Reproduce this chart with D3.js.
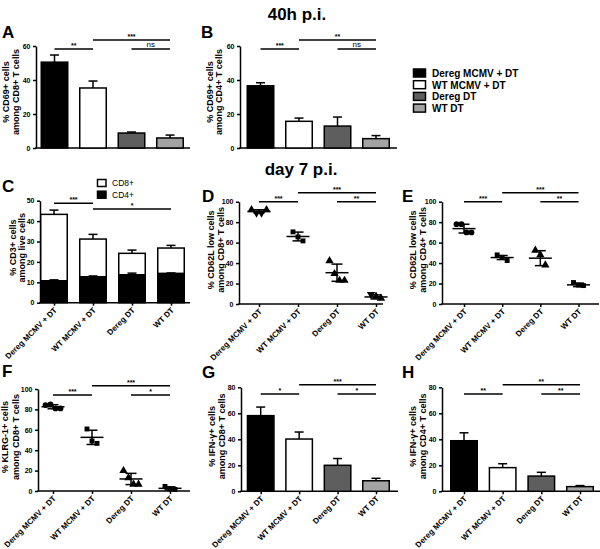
<!DOCTYPE html>
<html><head><meta charset="utf-8">
<script src="https://cdn.jsdelivr.net/npm/d3@7"></script>
<style>
html,body{margin:0;padding:0;background:#fff;}
svg{display:block;font-family:"Liberation Sans",Arial,sans-serif;}
</style></head>
<body>
<svg id="c" width="600" height="549"></svg>
<script>
// ---------- data ----------
const groups = ["Dereg MCMV + DT", "WT MCMV + DT", "Dereg DT", "WT DT"];

// A: % CD69+ among CD8+ (40h)
const cd69Cd8Mean = [50.5, 35.3, 8.8, 5.9];
const cd69Cd8Err  = [4.2, 4.1, 0.6, 1.7];
// B: % CD69+ among CD4+ (40h)
const cd69Cd4Mean = [36.6, 15.7, 12.9, 5.5];
const cd69Cd4Err  = [1.8, 1.9, 5.3, 1.8];
// C: % CD3+ among live cells (stacked CD4 / CD8)
const cd3Cd4Mean   = [10.7, 12.7, 13.7, 14.3];
const cd3Cd4Err    = [0.5, 0.4, 0.8, 0.3];
const cd3TotalMean = [43.3, 31.2, 24.2, 26.8];
const cd3TotalErr  = [2.1, 2.3, 1.6, 1.3];
// D: % CD62L low among CD8+
const cd62Cd8Points = [[92, 89, 89, 92], [70.5, 65.6, 61.7], [42.3, 29.6, 23, 23], [9.5, 7.5, 5.5]];
const cd62Cd8Mean = [90.5, 66, 30.6, 6.9];
const cd62Cd8Sd   = [1.6, 4.3, 8.4, 2.0];
// E: % CD62L low among CD4+
const cd62Cd4Points = [[78, 78, 70, 70], [48, 45.6, 42.5], [52.5, 48, 38], [21, 18.5, 18]];
const cd62Cd4Mean = [73.7, 45.4, 44.8, 18.7];
const cd62Cd4Sd   = [4.3, 2.0, 7.3, 1.7];
// F: % KLRG-1+ among CD8+
const klrgPoints = [[84.3, 85, 81, 81], [60.8, 49, 46.7], [19.9, 13, 6.5, 6.5], [4.5, 2, 1.5]];
const klrgMean = [82.6, 52.6, 11.8, 2.6];
const klrgSd   = [2.0, 7.0, 5.5, 1.5];
// G: % IFN-g+ among CD8+
const ifnCd8Mean = [58.2, 40.2, 20.0, 8.1];
const ifnCd8Err  = [6.6, 5.4, 5.2, 1.9];
// H: % IFN-g+ among CD4+
const ifnCd4Mean = [38.9, 18.2, 11.7, 3.6];
const ifnCd4Err  = [6.1, 3.0, 2.9, 0.8];

// significance annotations: [from, to, value, label]
const sigA = [[0, 1, 58.2, "**"], [1, 3, 63.5, "***"], [2, 3, 58.2, "ns"]];
const sigB = [[0, 1, 58.2, "***"], [1, 3, 63.5, "**"], [2, 3, 58.2, "ns"]];
const sigC = [[0, 1, 48.7, "***"], [1, 3, 45.9, "*"]];
const sigD = [[0, 1, 100, "***"], [1, 3, 108.8, "***"], [2, 3, 100, "**"]];
const sigE = [[0, 1, 100, "***"], [1, 3, 108.8, "***"], [2, 3, 100, "**"]];
const sigF = [[0, 1, 94, "***"], [1, 3, 103.2, "***"], [2, 3, 94, "*"]];
const sigG = [[0, 1, 74.8, "*"], [1, 3, 82, "***"], [2, 3, 74.8, "*"]];
const sigH = [[0, 1, 74.8, "**"], [1, 3, 82, "**"], [2, 3, 74.8, "**"]];

const ticks60 = [0, 20, 40, 60];
const ticks50 = [0, 10, 20, 30, 40, 50];
const ticks100 = [0, 20, 40, 60, 80, 100];
const ticks80 = [0, 20, 40, 60, 80];

// ---------- style ----------
const barFill = ["#000000", "#ffffff", "#5e5e5e", "#a3a3a3"];
const shapesD = [d3.symbolTriangle, d3.symbolSquare, d3.symbolTriangle, d3.symbolTriangle];
const shapesE = [d3.symbolCircle, d3.symbolSquare, d3.symbolTriangle, d3.symbolSquare];
const shapesF = [d3.symbolCircle, d3.symbolSquare, d3.symbolTriangle, d3.symbolSquare];
const LW = 1.5;

const svg = d3.select("#c");

function setupPanel(cfg) {
  const g = svg.append("g");
  const x = d3.scalePoint().domain(groups).range(cfg.xr);
  const y = d3.scaleLinear().domain([0, cfg.ymax]).range(cfg.yr);
  // y axis
  const ya = g.append("g").attr("transform", `translate(${cfg.ax},0)`)
    .call(d3.axisLeft(y).tickValues(cfg.ticks).tickSize(3).tickSizeOuter(0).tickPadding(2.5));
  ya.select(".domain").attr("stroke-width", LW);
  ya.selectAll(".tick line").attr("stroke-width", LW);
  ya.selectAll("text").attr("font-size", 7).attr("font-weight", "bold").attr("fill", "#000");
  // x axis
  const xa = g.append("g").attr("transform", `translate(0,${y(0)})`)
    .call(d3.axisBottom(x).tickSize(cfg.xlabels ? 3 : 0).tickSizeOuter(0));
  xa.select(".domain").attr("d", `M${cfg.ax - 0.75},0H${cfg.xEnd}`).attr("stroke-width", LW);
  xa.selectAll(".tick line").attr("stroke-width", LW);
  if (cfg.xlabels) {
    xa.selectAll("text").attr("x", 0).attr("y", 0).attr("dy", 0)
      .attr("transform", "translate(3,8) rotate(-45)")
      .attr("text-anchor", "end").attr("font-size", 8).attr("font-weight", "bold").attr("fill", "#000");
  } else {
    xa.selectAll("text").remove();
  }
  // y label
  const cy = (cfg.yr[0] + cfg.yr[1]) / 2 + (cfg.labDy || 0);
  cfg.ylab.forEach((t, i) => {
    g.append("text").attr("transform", `translate(${cfg.ax + cfg.labX[i] + 3},${cy}) rotate(-90)`)
      .attr("text-anchor", "middle").attr("font-size", 9).attr("font-weight", "bold")
      .attr("fill", "#000").text(t);
  });
  // panel letter
  g.append("text").attr("x", cfg.letter[1]).attr("y", cfg.letter[2])
    .attr("font-size", 17).attr("font-weight", "bold").attr("fill", "#000").text(cfg.letter[0]);
  // significance
  cfg.sig.forEach(s => {
    const x1 = x(groups[s[0]]), x2 = x(groups[s[1]]), yy = y(s[2]);
    g.append("line").attr("x1", x1).attr("x2", x2).attr("y1", yy).attr("y2", yy)
      .attr("stroke", "#000").attr("stroke-width", LW);
    g.append("text").attr("x", (x1 + x2) / 2).attr("y", s[3] === "ns" ? yy - 2 : yy - 1)
      .attr("text-anchor", "middle").attr("font-size", s[3] === "ns" ? 8 : 7)
      .attr("font-weight", s[3] === "ns" ? "normal" : "bold").attr("fill", "#000").text(s[3]);
  });
  return { g, x, y };
}

function errUp(g, cx, y0, y1, half) {
  g.append("line").attr("x1", cx).attr("x2", cx).attr("y1", y0).attr("y2", y1)
    .attr("stroke", "#000").attr("stroke-width", LW);
  g.append("line").attr("x1", cx - half).attr("x2", cx + half).attr("y1", y1).attr("y2", y1)
    .attr("stroke", "#000").attr("stroke-width", LW);
}

function barPanel(cfg, mean, err) {
  const { g, x, y } = setupPanel(cfg);
  const bw = 26.5;
  groups.forEach((k, i) => {
    errUp(g, x(k), y(mean[i]), y(mean[i] + err[i]), 4.5);
    g.append("rect").attr("x", x(k) - bw / 2).attr("width", bw)
      .attr("y", y(mean[i])).attr("height", y(0) - y(mean[i]))
      .attr("fill", barFill[i]).attr("stroke", "#000").attr("stroke-width", LW);
  });
}

function scatterPanel(cfg, pts, mean, sd, shapes) {
  const { g, x, y } = setupPanel(cfg);
  groups.forEach((k, i) => {
    const cx = x(k);
    const n = pts[i].length;
    pts[i].forEach((v, j) => {
      const off = (j - (n - 1) / 2) * 5;
      const sym = shapes[i];
      const flip = (i === 0 && j % 3 !== 0 && sym === d3.symbolTriangle) || (i === 3 && j === 0);
      const size = sym === d3.symbolCircle ? 26 : (sym === d3.symbolSquare ? 24 : 30);
      g.append("path").attr("d", d3.symbol().type(sym).size(size)())
        .attr("transform", `translate(${cx + off},${y(v)})` + (flip ? " rotate(180)" : ""))
        .attr("fill", "#000");
    });
    // mean line
    g.append("line").attr("x1", cx - 11.5).attr("x2", cx + 11.5).attr("y1", y(mean[i])).attr("y2", y(mean[i]))
      .attr("stroke", "#000").attr("stroke-width", LW);
    // sd
    g.append("line").attr("x1", cx).attr("x2", cx).attr("y1", y(mean[i] - sd[i])).attr("y2", y(mean[i] + sd[i]))
      .attr("stroke", "#000").attr("stroke-width", LW);
    [mean[i] - sd[i], mean[i] + sd[i]].forEach(v => {
      g.append("line").attr("x1", cx - 5.5).attr("x2", cx + 5.5).attr("y1", y(v)).attr("y2", y(v))
        .attr("stroke", "#000").attr("stroke-width", LW);
    });
  });
}

// ---------- titles ----------
svg.append("text").attr("x", 297).attr("y", 20).attr("text-anchor", "middle")
  .attr("font-size", 17).attr("font-weight", "bold").text("40h p.i.");
svg.append("text").attr("x", 301).attr("y", 175).attr("text-anchor", "middle")
  .attr("font-size", 17).attr("font-weight", "bold").text("day 7 p.i.");

// ---------- legend (groups) ----------
const leg = svg.append("g");
groups.forEach((k, i) => {
  const ly = 73 + i * 11.7;
  leg.append("rect").attr("x", 413.5).attr("y", ly - 4).attr("width", 12).attr("height", 8)
    .attr("fill", barFill[i]).attr("stroke", "#000").attr("stroke-width", LW);
  leg.append("text").attr("x", 432).attr("y", ly + 3.8).attr("font-size", 10)
    .attr("font-weight", "bold").text(k);
});

// ---------- panels ----------
barPanel({ ax: 36, xEnd: 190, xr: [54.5, 170], yr: [148, 46], ymax: 60, ticks: ticks60,
  ylab: ["% CD69+ cells", "among CD8+ T cells"], labX: [-30, -20], labDy: -5,
  letter: ["A", 2, 38], sig: sigA, xlabels: false }, cd69Cd8Mean, cd69Cd8Err);

barPanel({ ax: 240, xEnd: 397, xr: [260.5, 376], yr: [148, 46], ymax: 60, ticks: ticks60,
  ylab: ["% CD69+ cells", "among CD4+ T cells"], labX: [-30, -21], labDy: -5,
  letter: ["B", 201, 38], sig: sigB, xlabels: false }, cd69Cd4Mean, cd69Cd4Err);

// C stacked
(function () {
  const cfg = { ax: 40, xEnd: 190, xr: [54, 171], yr: [302.7, 200.7], ymax: 50, ticks: ticks50,
    ylab: ["% CD3+ cells", "among live cells"], labX: [-27, -18], labDy: -4,
    letter: ["C", 2, 192], sig: sigC, xlabels: true };
  const { g, x, y } = setupPanel(cfg);
  const bw = 26.5;
  groups.forEach((k, i) => {
    errUp(g, x(k), y(cd3TotalMean[i]), y(cd3TotalMean[i] + cd3TotalErr[i]), 4.5);
    g.append("rect").attr("x", x(k) - bw / 2).attr("width", bw)
      .attr("y", y(cd3TotalMean[i])).attr("height", y(cd3Cd4Mean[i]) - y(cd3TotalMean[i]))
      .attr("fill", "#fff").attr("stroke", "#000").attr("stroke-width", LW);
    errUp(g, x(k), y(cd3Cd4Mean[i]), y(cd3Cd4Mean[i] + cd3Cd4Err[i]), 4.5);
    g.append("rect").attr("x", x(k) - bw / 2).attr("width", bw)
      .attr("y", y(cd3Cd4Mean[i])).attr("height", y(0) - y(cd3Cd4Mean[i]))
      .attr("fill", "#000").attr("stroke", "#000").attr("stroke-width", LW);
  });
  const sub = ["CD8+", "CD4+"], subFill = ["#fff", "#000"];
  sub.forEach((t, i) => {
    const ly = 183 + i * 11.7;
    g.append("rect").attr("x", 97.5).attr("y", ly - 3.5).attr("width", 8.5).attr("height", 7)
      .attr("fill", subFill[i]).attr("stroke", "#000").attr("stroke-width", LW);
    g.append("text").attr("x", 112).attr("y", ly + 3).attr("font-size", 8.5).text(t);
  });
})();

scatterPanel({ ax: 239, xEnd: 383, xr: [259, 376], yr: [304, 201.7], ymax: 100, ticks: ticks100,
  ylab: ["% CD62L low cells", "among CD8+ T cells"], labX: [-28, -18.5], labDy: -3,
  letter: ["D", 202, 202], sig: sigD, xlabels: true }, cd62Cd8Points, cd62Cd8Mean, cd62Cd8Sd, shapesD);

scatterPanel({ ax: 442, xEnd: 599, xr: [464, 578.5], yr: [304, 201.7], ymax: 100, ticks: ticks100,
  ylab: ["% CD62L low cells", "among CD4+ T cells"], labX: [-29, -19.5], labDy: -3,
  letter: ["E", 402, 202], sig: sigE, xlabels: true }, cd62Cd4Points, cd62Cd4Mean, cd62Cd4Sd, shapesE);

scatterPanel({ ax: 38, xEnd: 190, xr: [53, 170], yr: [491, 389], ymax: 100, ticks: ticks100,
  ylab: ["% KLRG-1+ cells", "among CD8+ T cells"], labX: [-33, -22.5], labDy: -3,
  letter: ["F", 2, 377], sig: sigF, xlabels: true }, klrgPoints, klrgMean, klrgSd, shapesF);

barPanel({ ax: 241, xEnd: 398, xr: [260.7, 376], yr: [491.3, 387.3], ymax: 80, ticks: ticks80,
  ylab: ["% IFN-\u03b3+ cells", "among CD8+ T cells"], labX: [-29, -19.5], labDy: -3,
  letter: ["G", 202, 378], sig: sigG, xlabels: true }, ifnCd8Mean, ifnCd8Err);

barPanel({ ax: 442, xEnd: 600, xr: [464, 580], yr: [491.3, 387.3], ymax: 80, ticks: ticks80,
  ylab: ["% IFN-\u03b3+ cells", "among CD4+ T cells"], labX: [-29, -19.5], labDy: -3,
  letter: ["H", 402, 378], sig: sigH, xlabels: true }, ifnCd4Mean, ifnCd4Err);
</script>
</body></html>
